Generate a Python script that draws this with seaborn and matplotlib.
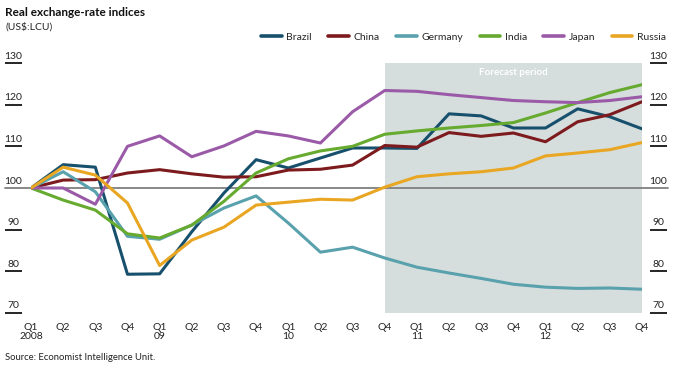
import matplotlib
matplotlib.use("Agg")
import matplotlib.pyplot as plt
import numpy as np
import pandas as pd
import seaborn as sns

quarters = ["Q1\n2008", "Q2", "Q3", "Q4", "Q1\n09", "Q2", "Q3", "Q4",
            "Q1\n10", "Q2", "Q3", "Q4", "Q1\n11", "Q2", "Q3", "Q4",
            "Q1\n12", "Q2", "Q3", "Q4"]
countries = ["Brazil", "China", "Germany", "India", "Japan", "Russia"]

brazil = [100, 105.6, 105.0, 79.3, 79.4, 89.5, 98.8, 106.8, 104.8, 107.2,
          109.6, 109.6, 109.5, 117.8, 117.3, 114.4, 114.4, 119.0, 117.1, 114.2]
china = [100, 101.9, 102.0, 103.6, 104.4, 103.4, 102.6, 102.7, 104.3, 104.5,
         105.5, 110.2, 109.8, 113.3, 112.4, 113.2, 111.1, 115.9, 117.6, 120.7]
germany = [100, 103.9, 99.1, 88.4, 87.7, 91.1, 95.2, 98.1, 91.6, 84.6,
           85.8, 83.2, 81.0, 79.6, 78.3, 76.9, 76.2, 75.9, 76.0, 75.7]
india = [100, 97.1, 94.7, 89.0, 88.0, 91.1, 96.8, 103.6, 107.0, 108.9,
         110.0, 112.9, 113.7, 114.4, 115.0, 115.7, 118.0, 120.5, 122.9, 124.8]
japan = [100, 100.0, 96.1, 110.0, 112.5, 107.5, 110.1, 113.6, 112.5, 110.8,
         118.3, 123.4, 123.2, 122.4, 121.7, 121.0, 120.7, 120.5, 121.0, 121.9]
russia = [100, 105.0, 103.1, 96.4, 81.4, 87.5, 90.6, 95.9, 96.6, 97.3,
          97.1, 100.2, 102.7, 103.4, 103.9, 104.8, 107.7, 108.4, 109.2, 110.9]

y_ticks = [70, 80, 90, 100, 110, 120, 130]
forecast_start = 11  # Q4 2010
source = "Source: Economist Intelligence Unit."

colors = {"Brazil": "#17506c", "China": "#7d1a1d", "Germany": "#59a1ad",
          "India": "#66aa2f", "Japan": "#9a5aa8", "Russia": "#e9a623"}

df = pd.DataFrame({"Brazil": brazil, "China": china, "Germany": germany,
                   "India": india, "Japan": japan, "Russia": russia})
df["q"] = np.arange(len(quarters))
long_df = df.melt(id_vars="q", var_name="country", value_name="index")

sns.set_style("white")
plt.rcParams["font.family"] = ["Lato", "DejaVu Sans"]

fig = plt.figure(figsize=(6.8, 3.68), dpi=100)
ax = fig.add_axes([31 / 680, (368 - 313) / 368, (642 - 31) / 680, 250 / 368])

# forecast shading
ax.axvspan(forecast_start, len(quarters) - 1, ymin=0, ymax=1, color="#d5dedc", lw=0, zorder=0)
ax.text((forecast_start + len(quarters) - 1) / 2, 127.8, "Forecast period", color="white",
        fontsize=7, fontweight="bold", ha="center", va="center")

# 100 baseline across full width
ax.axhline(100, xmin=-26 / 611, xmax=1 + 26 / 611, color="#7f7f7f", lw=1.3, clip_on=False, zorder=1)

sns.lineplot(data=long_df, x="q", y="index", hue="country", hue_order=countries,
             palette=colors, lw=2.2, ax=ax, legend=False, zorder=3)

ax.set_xlim(0, len(quarters) - 1)
ax.set_ylim(70, 130)
for s in ax.spines.values():
    s.set_visible(False)
ax.set_yticks([])
ax.set_xlabel("")
ax.set_ylabel("")
ax.set_xticks(range(len(quarters)))
ax.set_xticklabels(quarters, fontsize=7.5, color="#222222", linespacing=1.1, va="top")
ax.tick_params(axis="x", length=0, pad=7)

# Economist-style underlined y labels on both sides
trans = ax.get_yaxis_transform()
for v in y_ticks:
    for xl, xr in [(-26 / 611, -9 / 611), (1 + 8 / 611, 1 + 25 / 611)]:
        ax.text((xl + xr) / 2, v + 0.6, str(v), transform=trans, ha="center", va="bottom",
                fontsize=7.5, color="#222222", clip_on=False)
        if v != 100:
            ax.plot([xl, xr], [v, v], transform=trans, color="black", lw=1.2,
                    clip_on=False, solid_capstyle="butt")

# legend
handles = [plt.Line2D([0], [0], color=colors[c], lw=2.6) for c in countries]
fig.legend(handles, countries, loc="center right", bbox_to_anchor=(0.985, 1 - 37 / 368),
           ncol=6, frameon=False, fontsize=7.5, handlelength=2.0, handletextpad=0.4,
           columnspacing=1.6, borderaxespad=0)

fig.text(5 / 680, 1 - 12 / 368, "Real exchange-rate indices", fontsize=8.5,
         fontweight="bold", va="center", ha="left", color="#111111")
fig.text(5 / 680, 1 - 27 / 368, "(US$:LCU)", fontsize=7.5, va="center", ha="left", color="#222222")
fig.text(5 / 680, 1 - 357 / 368, source, fontsize=6.8, va="center", ha="left", color="#222222")

fig.savefig("out.png", dpi=100)
